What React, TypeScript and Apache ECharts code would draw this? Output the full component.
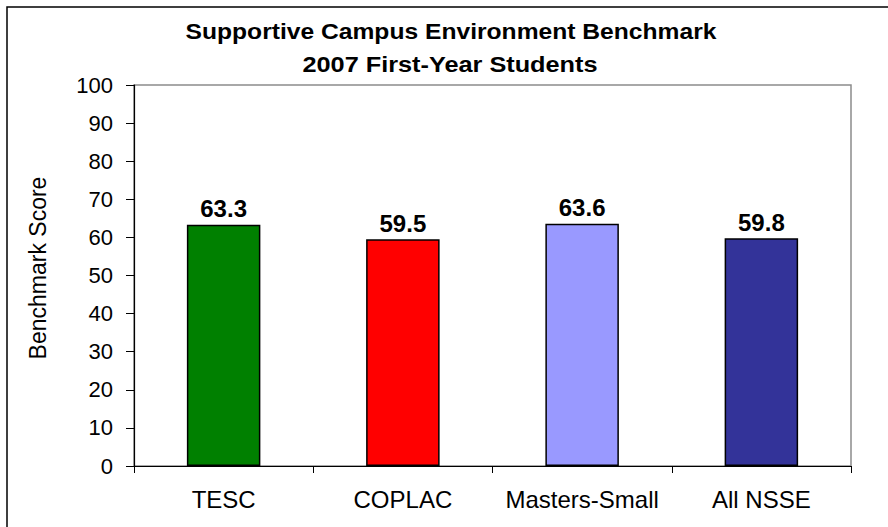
import React, { useEffect, useRef } from "react";
import * as echarts from "echarts";

const categories = ["TESC", "COPLAC", "Masters-Small", "All NSSE"];
const scores = [63.3, 59.5, 63.6, 59.8];
const barColors = ["#008000", "#FF0000", "#9999FF", "#333399"];
const titleLines = ["Supportive Campus Environment Benchmark", "2007 First-Year Students"];
const yAxisTitle = "Benchmark Score";

const FONT = "'Liberation Sans', Arial, Helvetica, sans-serif";

export default function App() {
  const ref = useRef<HTMLDivElement>(null);

  useEffect(() => {
    if (!ref.current) return;
    const chart = echarts.init(ref.current, null, { renderer: "svg" });
    chart.setOption({
      animation: false,
      backgroundColor: "#ffffff",
      textStyle: { fontFamily: FONT, color: "#000" },
      graphic: [
        {
          type: "rect",
          shape: { x: 7, y: 7, width: 920, height: 600 },
          style: { fill: "none", stroke: "#000", lineWidth: 1.5 },
          silent: true,
        },
        {
          type: "text",
          x: 451,
          y: 31,
          scaleX: 1.12,
          style: {
            text: titleLines[0],
            fontFamily: FONT,
            fontSize: 22,
            fontWeight: "bold",
            fill: "#000",
            textAlign: "center",
            textVerticalAlign: "middle",
          },
        },
        {
          type: "text",
          x: 450,
          y: 65,
          scaleX: 1.15,
          style: {
            text: titleLines[1],
            fontFamily: FONT,
            fontSize: 22,
            fontWeight: "bold",
            fill: "#000",
            textAlign: "center",
            textVerticalAlign: "middle",
          },
        },
        {
          type: "text",
          x: 38,
          y: 268,
          rotation: Math.PI / 2,
          style: {
            text: yAxisTitle,
            fontFamily: FONT,
            fontSize: 23,
            fill: "#000",
            textAlign: "center",
            textVerticalAlign: "middle",
          },
        },
      ],
      grid: {
        left: 134,
        top: 85,
        right: 37,
        bottom: 61,
        show: true,
        borderColor: "#8c8c8c",
        borderWidth: 1.5,
        backgroundColor: "#ffffff",
      },
      xAxis: {
        type: "category",
        data: categories,
        axisLine: { show: true, lineStyle: { color: "#000", width: 1.2 } },
        axisTick: { show: true, length: 7, lineStyle: { color: "#000" } },
        axisLabel: {
          color: "#000",
          fontSize: 24,
          fontFamily: FONT,
          margin: 21,
          interval: 0,
        },
        splitLine: { show: false },
      },
      yAxis: {
        type: "value",
        min: 0,
        max: 100,
        interval: 10,
        axisLine: { show: true, lineStyle: { color: "#000", width: 1.2 } },
        axisTick: { show: true, length: 8, lineStyle: { color: "#000" } },
        axisLabel: { color: "#000", fontSize: 22, fontFamily: FONT, margin: 21 },
        splitLine: { show: false },
      },
      series: [
        {
          type: "bar",
          barWidth: "41%",
          data: scores.map((v, i) => ({
            value: v,
            itemStyle: { color: barColors[i], borderColor: "#000", borderWidth: 1.5 },
          })),
          label: {
            show: true,
            position: "top",
            distance: 4,
            color: "#000",
            fontSize: 24,
            fontWeight: "bold",
            fontFamily: FONT,
            formatter: (p: any) => Number(p.value).toFixed(1),
          },
        },
      ],
    });
    return () => chart.dispose();
  }, []);

  return (
    <div
      ref={ref}
      style={{ position: "absolute", left: 0, top: 0, width: 888, height: 527 }}
    />
  );
}
